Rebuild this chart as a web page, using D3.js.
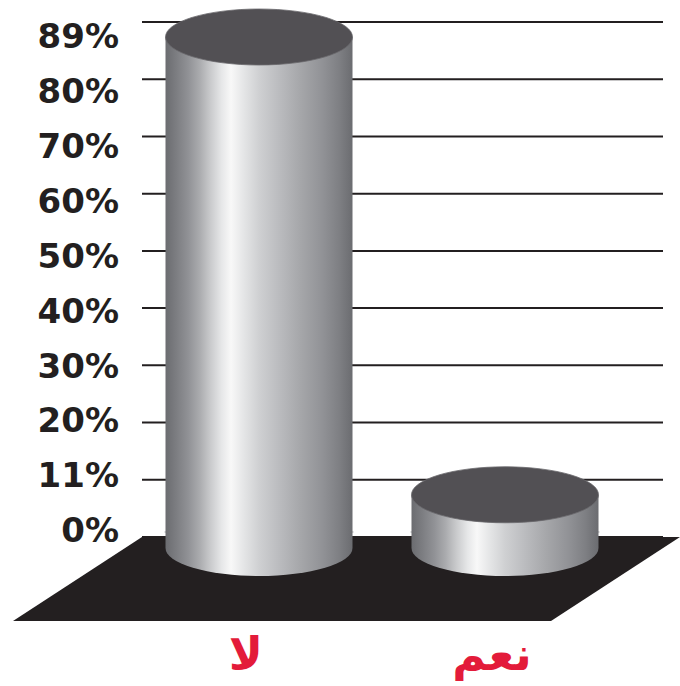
<!DOCTYPE html>
<html>
<head>
<meta charset="utf-8">
<script src="https://cdn.jsdelivr.net/npm/d3@7"></script>
<style>
  html, body { margin: 0; padding: 0; background: #fff; }
  svg { display: block; }
</style>
</head>
<body>
<svg id="chart" width="680" height="686"></svg>
<script>
// data
const categories = ['لا', 'نعم'];
const values = [89, 11];
const tickValues = [0, 11, 20, 30, 40, 50, 60, 70, 80, 89];
const tickLabels = ['0%', '11%', '20%', '30%', '40%', '50%', '60%', '70%', '80%', '89%'];

const svg = d3.select('#chart');
const ink = '#231f20';

// scales: ticks are evenly spaced in the original, so map them piecewise
const gridPos = d3.scalePoint().domain(d3.range(tickValues.length)).range([537, 22]);
const y = d3.scaleLinear()
  .domain(tickValues)
  .range(tickValues.map((d, i) => gridPos(i)));
const labelPos = d3.scalePoint().domain(d3.range(tickValues.length)).range([530, 36]);
const x = d3.scalePoint().domain(categories).range([259, 505]);

const rx = 93.5, ry = 28;
const capShift = 15;   // cylinder centre sits a bit in front of the grid plane

// body gradient
const defs = svg.append('defs');
const grad = defs.append('linearGradient')
  .attr('id', 'body')
  .attr('x1', '0%').attr('x2', '100%').attr('y1', '0%').attr('y2', '0%');
const stops = [
  [0.00, '#6b6c70'], [0.06, '#7d7e82'], [0.12, '#909195'], [0.18, '#a9aaad'],
  [0.24, '#c9cacc'], [0.30, '#e6e7e8'], [0.35, '#f8f8f8'], [0.42, '#e4e5e6'],
  [0.50, '#cfd0d2'], [0.60, '#bcbdc0'], [0.72, '#a6a7aa'], [0.84, '#919296'],
  [0.93, '#7e7f83'], [1.00, '#6b6c70']
];
grad.selectAll('stop').data(stops).enter().append('stop')
  .attr('offset', d => d[0])
  .attr('stop-color', d => d[1]);

// gridlines
svg.append('g').selectAll('line')
  .data(tickValues)
  .enter()
  .append('line')
  .attr('x1', 142)
  .attr('x2', 663)
  .attr('y1', d => y(d))
  .attr('y2', d => y(d))
  .style('stroke', ink)
  .style('stroke-width', 2);

// tick labels
svg.append('g').selectAll('text')
  .data(tickLabels)
  .enter()
  .append('text')
  .attr('x', 119)
  .attr('y', (d, i) => labelPos(i))
  .attr('dy', '0.36em')
  .attr('text-anchor', 'end')
  .style('font-family', '"DejaVu Sans", sans-serif')
  .style('font-weight', 'bold')
  .style('font-size', '34px')
  .style('fill', ink)
  .text(d => d);

// floor
const y0 = y(0);
const skew = 129, depth = 84;
svg.append('polygon')
  .attr('points', [
    [142, y0], [142 + 538, y0], [142 + 538 - skew, y0 + depth], [142 - skew, y0 + depth]
  ].map(p => p.join(',')).join(' '))
  .style('fill', ink);

// cylinders
const bottomY = y0 + 11;
const bars = svg.append('g').selectAll('g')
  .data(categories.map((c, i) => ({ c, v: values[i] })))
  .enter()
  .append('g');

bars.append('ellipse')
  .attr('cx', d => x(d.c))
  .attr('cy', y0 - 5)
  .attr('rx', rx + 1.5)
  .attr('ry', 3)
  .style('fill', '#9d9ea1');

bars.append('path')
  .attr('d', d => {
    const cx = x(d.c), top = y(d.v) + capShift;
    return `M${cx - rx},${top} L${cx - rx},${bottomY} A${rx},${ry} 0 0 0 ${cx + rx},${bottomY} L${cx + rx},${top} Z`;
  })
  .style('fill', 'url(#body)');

bars.append('ellipse')
  .attr('cx', d => x(d.c))
  .attr('cy', d => y(d.v) + capShift)
  .attr('rx', rx)
  .attr('ry', ry)
  .style('fill', '#525054')
  .style('stroke', '#6a686c')
  .style('stroke-width', 0.8);

// category labels
svg.append('g').selectAll('text')
  .data(categories)
  .enter()
  .append('text')
  .attr('x', d => x(d) - 13)
  .attr('y', 670)
  .attr('text-anchor', 'middle')
  .style('font-family', '"DejaVu Sans", sans-serif')
  .style('font-weight', 'bold')
  .style('font-size', '46px')
  .style('fill', '#e31b3a')
  .text(d => d);
</script>
</body>
</html>
